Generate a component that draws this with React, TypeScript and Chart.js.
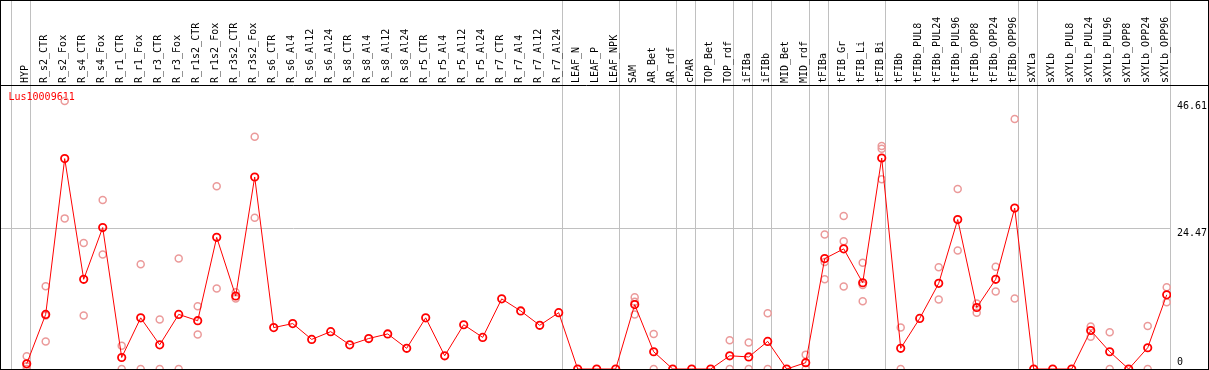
import React, { useEffect, useRef } from 'react';
import { Chart, registerables } from 'chart.js';

Chart.register(...registerables);

const seriesName = 'Lus10009611';

const categories = [
  'HYP', 'R_s2_CTR', 'R_s2_Fox', 'R_s4_CTR', 'R_s4_Fox', 'R_r1_CTR', 'R_r1_Fox', 'R_r3_CTR', 'R_r3_Fox',
  'R_r1s2_CTR', 'R_r1s2_Fox', 'R_r3s2_CTR', 'R_r3s2_Fox', 'R_s6_CTR', 'R_s6_Al4', 'R_s6_Al12', 'R_s6_Al24',
  'R_s8_CTR', 'R_s8_Al4', 'R_s8_Al12', 'R_s8_Al24', 'R_r5_CTR', 'R_r5_Al4', 'R_r5_Al12', 'R_r5_Al24',
  'R_r7_CTR', 'R_r7_Al4', 'R_r7_Al12', 'R_r7_Al24', 'LEAF_N', 'LEAF_P', 'LEAF_NPK', 'SAM', 'AR_Bet', 'AR_rdf',
  'cPAR', 'TOP_Bet', 'TOP_rdf', 'iFIBa', 'iFIBb', 'MID_Bet', 'MID_rdf', 'tFIBa', 'tFIB_Gr', 'tFIB_Li', 'tFIB_Bi',
  'tFIBb', 'tFIBb_PUL8', 'tFIBb_PUL24', 'tFIBb_PUL96', 'tFIBb_OPP8', 'tFIBb_OPP24', 'tFIBb_OPP96',
  'sXYLa', 'sXYLb', 'sXYLb_PUL8', 'sXYLb_PUL24', 'sXYLb_PUL96', 'sXYLb_OPP8', 'sXYLb_OPP24', 'sXYLb_OPP96',
];

const meanValues = [
  0.9, 9.5, 36.6, 15.6, 24.6, 2.0, 8.9, 4.2, 9.5,
  8.4, 22.9, 12.7, 33.4, 7.2, 7.9, 5.15, 6.5,
  4.2, 5.3, 6.1, 3.6, 8.9, 2.3, 7.7, 5.5,
  12.2, 10.1, 7.6, 9.8, 0, 0, 0, 11.2, 3.0, 0,
  0, 0, 2.3, 2.1, 4.8, 0, 1.1, 19.2, 20.9, 15.0, 36.7,
  3.6, 8.8, 14.9, 26.0, 10.7, 15.6, 28.0,
  0, 0, 0, 6.7, 3.0, 0, 3.7, 12.9,
];

const replicateA = [
  2.2, 14.4, 46.61, 21.9, 29.4, 4.05, 18.2, 8.6, 19.2,
  10.9, 31.8, 13.35, 40.4, null, null, null, null,
  null, null, null, null, null, null, null, null,
  null, null, null, null, null, null, null, 12.5, 6.1, null,
  null, null, 5.0, 4.6, 9.7, null, 2.5, 23.4, 26.6, 18.5, 38.8,
  7.2, null, 17.7, 31.3, 11.4, 17.8, 43.5,
  null, null, null, 7.4, 6.4, null, 7.5, 14.2,
];

const replicateB = [
  0.5, 9.3, 26.2, 9.3, 19.9, 0, 0, 0, 0,
  6.0, 14.0, 12.25, 26.3, null, null, null, null,
  null, null, null, null, null, null, null, null,
  null, null, null, null, null, null, null, 11.7, 0, null,
  null, null, 0, 0, 0, null, 0, 18.6, 22.2, 14.6, 38.3,
  0, null, 12.1, 20.6, 9.8, 13.5, 12.25,
  null, null, null, 5.6, 0, null, 0, 11.6,
];

const replicateC = [
  0, 4.8, null, null, null, null, null, null, null,
  null, null, null, null, null, null, null, null,
  null, null, null, null, null, null, null, null,
  null, null, null, null, null, null, null, 9.5, null, null,
  null, null, null, null, null, null, null, 15.6, 14.35, 11.8, 33.0,
  null, null, null, null, null, null, null,
  null, null, null, null, null, null, null, null,
];

// group separators: placed just before these category indices
const groupStarts = [0, 1, 29, 32, 35, 36, 38, 39, 40, 42, 43, 46, 53, 54, 61];
const yTickValues = [0, 24.47, 46.61];
const yTickLabels = ['0', '24.47', '46.61'];

const Y_MAX = 49.4;
const X_MIN = -1.3526;
const X_MAX = 60.226;
const SEP_SHIFT = -0.7895;

const FONT = { family: "'DejaVu Sans Mono', monospace", size: 10 };
const GRID_GRAY = '#c0c0c0';
const NONE = 'rgba(0,0,0,0)';

const isSep = (v: number) => !Number.isInteger(v);

const seriesTitlePlugin = {
  id: 'seriesTitle',
  beforeDatasetsDraw(chart: any) {
    const { ctx, chartArea } = chart;
    ctx.save();
    ctx.font = "10px 'DejaVu Sans Mono', monospace";
    ctx.fillStyle = '#ff0000';
    ctx.textBaseline = 'alphabetic';
    ctx.textAlign = 'left';
    ctx.fillText(seriesName, chartArea.left + 7.5, chartArea.top + 15);
    ctx.restore();
  },
};

export default function App() {
  const canvasRef = useRef<HTMLCanvasElement | null>(null);

  useEffect(() => {
    if (!canvasRef.current) return;
    const replicatePoints: { x: number; y: number }[] = [];
    [replicateA, replicateB, replicateC].forEach((arr) => {
      arr.forEach((v, i) => {
        if (v !== null && v !== undefined) replicatePoints.push({ x: i, y: v as number });
      });
    });

    const chart = new Chart(canvasRef.current, {
      type: 'line',
      data: {
        datasets: [
          {
            label: seriesName,
            data: meanValues.map((v, i) => ({ x: i, y: v })),
            borderColor: '#ff0000',
            borderWidth: 1,
            pointRadius: 3.7,
            pointBorderWidth: 1.8,
            pointBorderColor: '#ff0000',
            pointBackgroundColor: NONE,
            backgroundColor: NONE,
            tension: 0,
            xAxisID: 'x',
            yAxisID: 'y',
          },
          {
            type: 'scatter',
            label: 'replicates',
            data: replicatePoints,
            showLine: false,
            pointRadius: 3.5,
            pointBorderWidth: 1.5,
            pointBorderColor: '#eb9a9a',
            pointBackgroundColor: NONE,
            backgroundColor: NONE,
            borderColor: '#eb9a9a',
            xAxisID: 'x',
            yAxisID: 'y',
          } as any,
        ],
      },
      options: {
        animation: false,
        responsive: false,
        events: [],
        layout: { padding: 0, autoPadding: false },
        plugins: {
          legend: { display: false },
          tooltip: { enabled: false },
          title: { display: false },
        },
        scales: {
          x: {
            type: 'linear',
            position: 'top',
            min: X_MIN,
            max: X_MAX,
            afterBuildTicks: (s: any) => {
              const t = categories.map((_, i) => ({ value: i }));
              groupStarts.forEach((k) => t.push({ value: k + SEP_SHIFT }));
              t.sort((a, b) => a.value - b.value);
              s.ticks = t;
            },
            afterFit: (s: any) => {
              s.height = 84;
              s.paddingLeft = 0;
              s.paddingRight = 0;
            },
            ticks: {
              autoSkip: false,
              minRotation: 90,
              maxRotation: 90,
              padding: -82,
              labelOffset: 10.5,
              color: '#000',
              font: FONT,
              callback: (v: any) => (Number.isInteger(v) ? categories[v] : ''),
            },
            grid: {
              drawTicks: true,
              tickLength: 84,
              lineWidth: 1,
              color: (ctx: any) => (ctx.tick && isSep(ctx.tick.value) ? GRID_GRAY : NONE),
              tickColor: (ctx: any) => (ctx.tick && isSep(ctx.tick.value) ? GRID_GRAY : NONE),
            },
            border: { display: true, color: '#000', width: 1 },
          },
          y: {
            type: 'linear',
            position: 'right',
            min: 0,
            max: Y_MAX,
            afterBuildTicks: (s: any) => {
              s.ticks = [...yTickValues, Y_MAX].map((v) => ({ value: v }));
            },
            afterFit: (s: any) => {
              s.width = 37;
              s.paddingTop = 0;
              s.paddingBottom = 0;
            },
            ticks: {
              autoSkip: false,
              align: 'start',
              padding: -31,
              color: '#000',
              font: FONT,
              callback: (v: any) => {
                const idx = yTickValues.indexOf(v);
                if (idx < 0) return '';
                // the bottom label sits above its tick line
                return v === 0 ? [yTickLabels[idx], '', ''] : yTickLabels[idx];
              },
            },
            grid: {
              drawTicks: true,
              tickLength: 37,
              lineWidth: 1,
              color: (ctx: any) => (ctx.tick && ctx.tick.value === 24.47 ? GRID_GRAY : NONE),
              tickColor: (ctx: any) => (ctx.tick && ctx.tick.value === Y_MAX ? '#000' : NONE),
            },
            border: { display: false },
          },
        } as any,
      },
      plugins: [seriesTitlePlugin],
    });
    return () => chart.destroy();
  }, []);

  return (
    <div
      style={{
        position: 'fixed',
        left: 0,
        top: 0,
        width: 1209,
        height: 370,
        boxSizing: 'border-box',
        border: '1px solid #000',
        background: '#fff',
      }}
    >
      <canvas ref={canvasRef} width={1207} height={368} style={{ display: 'block' }} />
    </div>
  );
}
